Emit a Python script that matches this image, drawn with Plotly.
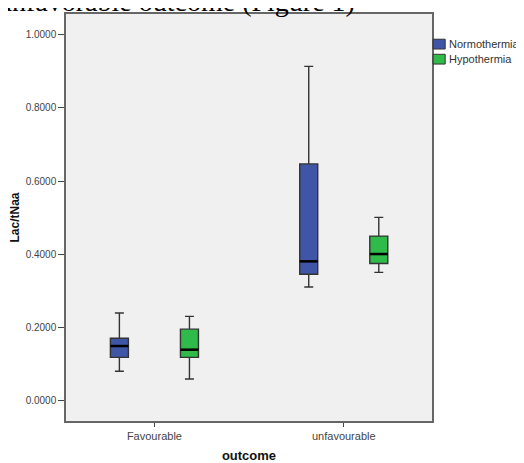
import plotly.graph_objects as go

categories = ["Favourable", "unfavourable"]
groups = ["Normothermia", "Hypothermia"]

# five-number summaries
normo_low = [0.081, 0.311]
normo_q1 = [0.119, 0.346]
normo_med = [0.150, 0.381]
normo_q3 = [0.171, 0.647]
normo_high = [0.240, 0.913]

hypo_low = [0.060, 0.351]
hypo_q1 = [0.119, 0.375]
hypo_med = [0.140, 0.401]
hypo_q3 = [0.196, 0.450]
hypo_high = [0.231, 0.501]

y_ticks = [0.0, 0.2, 0.4, 0.6, 0.8, 1.0]

colors = {"Normothermia": "#3F56A6", "Hypothermia": "#2FBA4A"}
offset = 0.185
bw = 0.095
cat_pos = list(range(len(categories)))

series = {
    "Normothermia": (normo_low, normo_q1, normo_med, normo_q3, normo_high, -offset),
    "Hypothermia": (hypo_low, hypo_q1, hypo_med, hypo_q3, hypo_high, offset),
}

fig = go.Figure()
for name, (lo, q1, med, q3, hi, off) in series.items():
    xs = [p + off for p in cat_pos]
    fig.add_trace(go.Box(
        x=xs, q1=q1, median=med, q3=q3, lowerfence=lo, upperfence=hi,
        name=name, width=bw, whiskerwidth=0.5,
        fillcolor=colors[name], line=dict(color="#333333", width=1.4),
        showlegend=False, hoverinfo="skip",
    ))
    mx, my = [], []
    for x, m in zip(xs, med):
        mx += [x - bw / 2, x + bw / 2, None]
        my += [m, m, None]
    fig.add_trace(go.Scatter(x=mx, y=my, mode="lines",
                             line=dict(color="black", width=2.5),
                             showlegend=False, hoverinfo="skip"))

# manual legend
leg_rows = [0.926, 0.889]
for name, yc in zip(groups, leg_rows):
    fig.add_shape(type="rect", xref="paper", yref="paper",
                  x0=1.003, x1=1.036, y0=yc - 0.012, y1=yc + 0.012,
                  fillcolor=colors[name], line=dict(color="#333", width=1))
    fig.add_annotation(xref="paper", yref="paper", x=1.041, y=yc,
                       text=name, showarrow=False, xanchor="left", yanchor="middle",
                       font=dict(family="Arial, Liberation Sans", size=11, color="#333"))

fig.add_annotation(xref="paper", yref="paper", x=-0.19, y=1.0,
                   yshift=-5, text="unfavorable outcome (Figure 1)", showarrow=False,
                   xanchor="left", yanchor="bottom",
                   font=dict(family="Liberation Serif, Times New Roman", size=28, color="black"))

fig.update_layout(
    width=516, height=455,
    margin=dict(l=58, r=92, t=6, b=42),
    paper_bgcolor="white", plot_bgcolor="#F0F0F0",
    font=dict(family="Arial, Liberation Sans", size=10, color="#333"),
)
fig.update_xaxes(
    range=[-0.467, 1.466], tickvals=cat_pos, ticktext=categories,
    showgrid=False, zeroline=False, showline=True, mirror=True, automargin=False,
    linecolor="#666", linewidth=1.5, ticks="outside", ticklen=4, tickcolor="#444",
    title=dict(text="<b>outcome</b>", font=dict(size=13, color="#111"), standoff=14),
    tickfont=dict(size=11, color="#444"),
)
fig.update_yaxes(
    range=[-0.0546, 1.056], tickvals=y_ticks, tickformat=".4f",
    showgrid=False, zeroline=False, showline=True, mirror=True, automargin=False,
    linecolor="#666", linewidth=1.5, ticks="outside", ticklen=6, tickcolor="#444",
    title=dict(text="<b>Lac/tNaa</b>", font=dict(size=12, color="#111"), standoff=8),
    tickfont=dict(size=10, color="#444"),
)

fig.write_html("out.html")
